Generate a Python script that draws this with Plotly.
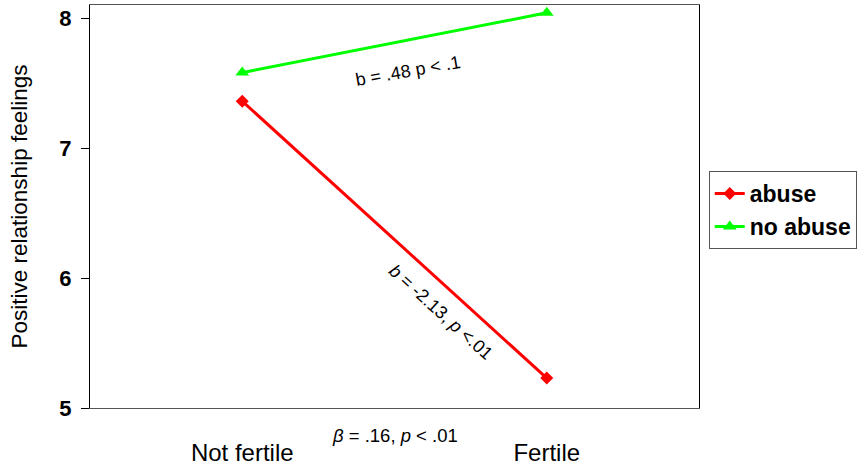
import plotly.graph_objects as go

fertility = ["Not fertile", "Fertile"]
abuse = [7.36, 5.23]
no_abuse = [7.58, 8.04]
y_ticks = [5, 6, 7, 8]

FONT = "Arial, Liberation Sans, sans-serif"

fig = go.Figure()

fig.add_trace(go.Scatter(
    x=[0, 1], y=abuse, name="abuse", mode="lines+markers",
    line=dict(color="#ff0000", width=3),
    marker=dict(symbol="diamond", size=10, color="#ff0000"),
))
fig.add_trace(go.Scatter(
    x=[0, 1], y=no_abuse, name="no abuse", mode="lines+markers",
    line=dict(color="#00ff00", width=3),
    marker=dict(symbol="triangle-up", size=12, color="#00ff00"),
))

# slope annotations
fig.add_annotation(x=0.544, y=7.59, text="b = .48 p < .1", showarrow=False,
                   textangle=-10, font=dict(size=18, color="black", family=FONT))
fig.add_annotation(x=0.652, y=5.74, text="<i>b</i> = -2.13, <i>p</i> <.01", showarrow=False,
                   textangle=42, font=dict(size=18, color="black", family=FONT))
fig.add_annotation(x=0.5, y=-0.067, xref="x", yref="paper", yanchor="middle",
                   text="<i>β</i> = .16, <i>p</i> < .01", showarrow=False,
                   font=dict(size=18.5, color="black", family=FONT))

fig.update_layout(
    width=862, height=471,
    margin=dict(l=90, r=163, t=5, b=63),
    plot_bgcolor="white", paper_bgcolor="white",
    font=dict(family=FONT, color="black"),
    showlegend=True,
    legend=dict(
        x=1.016, y=0.588, xanchor="left", yanchor="top",
        bordercolor="#555555", borderwidth=1,
        font=dict(size=23, weight="bold", color="black"),
        tracegroupgap=0,
    ),
    xaxis=dict(
        range=[-0.5, 1.5], tickvals=[0, 1], ticktext=fertility,
        showgrid=False, zeroline=False, showline=True, linecolor="#555555",
        linewidth=1, mirror=True, ticks="", ticklabelstandoff=23,
        tickfont=dict(size=24), automargin=False,
    ),
    yaxis=dict(
        range=[5, 8.1], tickvals=y_ticks, showgrid=False, zeroline=False,
        showline=True, linecolor="black", linewidth=1, mirror=True,
        ticks="outside", ticklen=8, tickcolor="black", ticklabelstandoff=5,
        tickfont=dict(size=22, weight="bold"), automargin=False,
        title=dict(text="Positive relationship feelings", font=dict(size=22.5), standoff=25),
    ),
)

# drop the page's default body margin so the figure sits at the window corner
fig.write_html("out.html", config={"displayModeBar": False},
               post_script="document.body.style.margin='0';")
